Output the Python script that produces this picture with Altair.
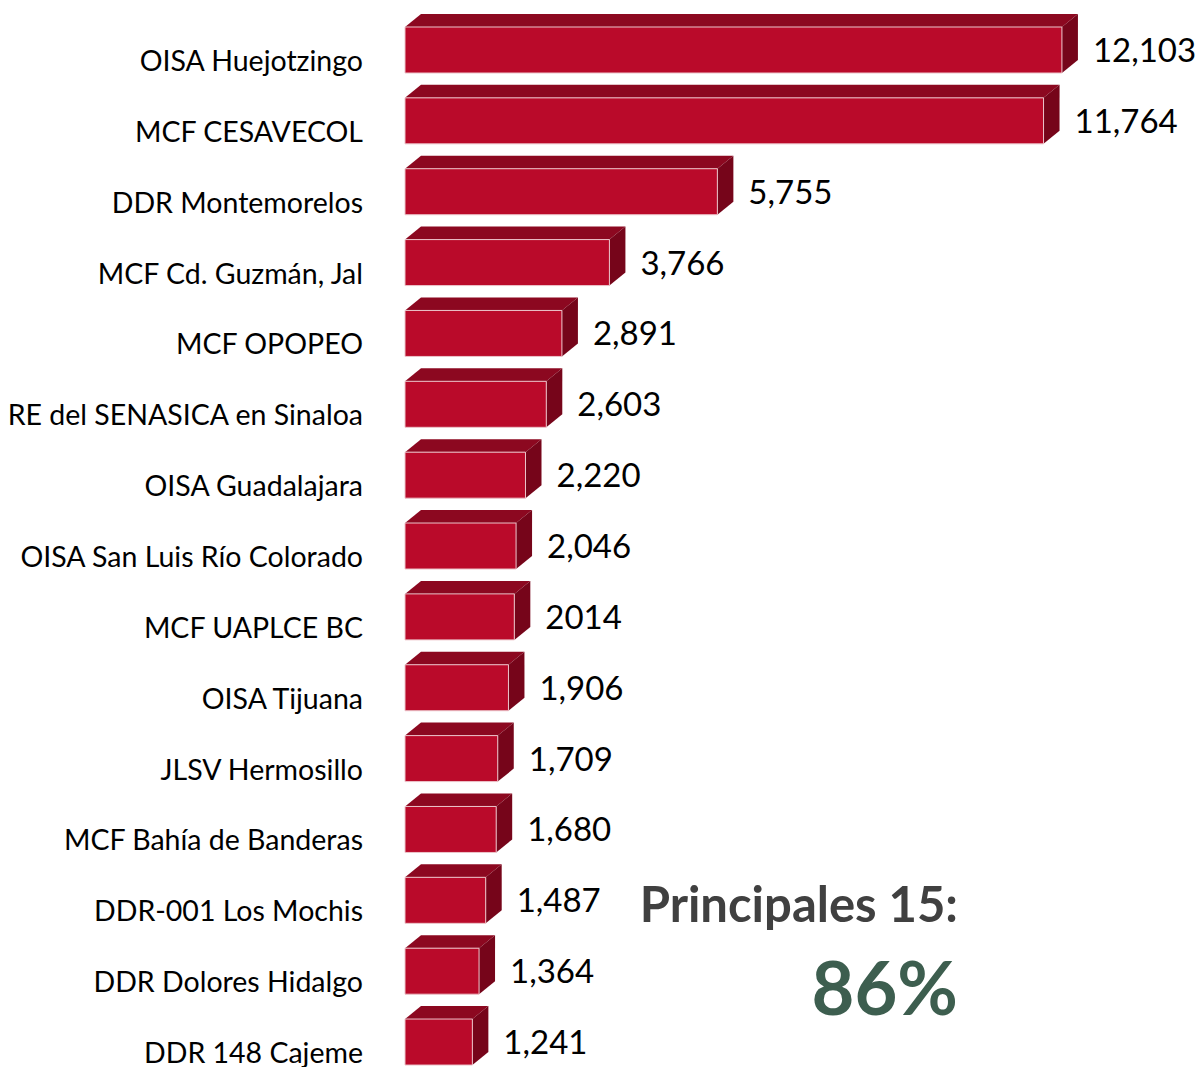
import altair as alt
import pandas as pd

names = [
    "OISA Huejotzingo", "MCF CESAVECOL", "DDR Montemorelos", "MCF Cd. Guzmán, Jal",
    "MCF OPOPEO", "RE del SENASICA en Sinaloa", "OISA Guadalajara",
    "OISA San Luis Río Colorado", "MCF UAPLCE BC", "OISA Tijuana", "JLSV Hermosillo",
    "MCF Bahía de Banderas", "DDR-001 Los Mochis", "DDR Dolores Hidalgo", "DDR 148 Cajeme",
]
values = [12103, 11764, 5755, 3766, 2891, 2603, 2220, 2046, 2014, 1906, 1709, 1680, 1487, 1364, 1241]
value_labels = ["12,103", "11,764", "5,755", "3,766", "2,891", "2,603", "2,220", "2,046",
                "2014", "1,906", "1,709", "1,680", "1,487", "1,364", "1,241"]
note_title = "Principales 15:"
note_value = "86%"

# geometry (scale units)
PITCH = 70.86            # px per row
H = 23 / PITCH           # half height of front face
DTOP = 13 / PITCH        # depth of top face (rows)
XMAX = 14573
PXU = 791 / XMAX
DX = 16 / PXU            # depth offset in value units

front = pd.DataFrame({
    "row": list(range(len(values))),
    "v": values,
    "label": value_labels,
    "name": names,
})
front["y0"] = front["row"] - H
front["y1"] = front["row"] + H

top_rows = []
side_rows = []
for i, v in enumerate(values):
    top_rows.append({"bar": "b%d" % i, "ty": i - H, "tx": 0.0, "tx2": float(v)})
    top_rows.append({"bar": "b%d" % i, "ty": i - H - DTOP, "tx": DX, "tx2": v + DX})
    side_rows.append({"bar": "b%d" % i, "sx": float(v), "sy": i - H, "sy2": i + H})
    side_rows.append({"bar": "b%d" % i, "sx": v + DX, "sy": i - H - DTOP, "sy2": i + H - DTOP})
top = pd.DataFrame(top_rows)
side = pd.DataFrame(side_rows)

xscale = alt.Scale(domain=[0, XMAX], nice=False, zero=False)
yscale = alt.Scale(domain=[-42 / PITCH, -42 / PITCH + 1059 / PITCH], reverse=True, nice=False, zero=False)

top_layer = alt.Chart(top).mark_area(orient="horizontal", fill="#8C0820", opacity=1).encode(
    y=alt.Y("ty:Q", scale=yscale, axis=None),
    x=alt.X("tx:Q", scale=xscale, axis=None),
    x2="tx2:Q",
    detail="bar:N",
)

side_layer = alt.Chart(side).mark_area(orient="vertical", fill="#76051A", opacity=1).encode(
    x=alt.X("sx:Q", scale=xscale, axis=None),
    y=alt.Y("sy:Q", scale=yscale, axis=None),
    y2="sy2:Q",
    detail="bar:N",
)

front_layer = alt.Chart(front).mark_rect(color="#BA0A2A", stroke="#ecc4ca", strokeWidth=1).encode(
    x=alt.X("v:Q", scale=xscale, axis=None),
    x2=alt.datum(0),
    y=alt.Y("y0:Q", scale=yscale, axis=None),
    y2="y1:Q",
)

text_layer = alt.Chart(front).mark_text(
    align="left", baseline="middle", dx=31, dy=2, fontSize=33, font="Lato", color="#000000"
).encode(
    x=alt.X("v:Q", scale=xscale, axis=None),
    y=alt.Y("row:Q", scale=yscale, axis=None),
    text="label:N",
)

name_layer = alt.Chart(front).mark_text(
    align="right", baseline="middle", dy=12, fontSize=28.5, font="Lato", color="#000000"
).encode(
    x=alt.value(-42),
    y=alt.Y("row:Q", scale=yscale, axis=None),
    text="name:N",
)

notes = pd.DataFrame({"t": [note_title]})
note1 = alt.Chart(notes).mark_text(
    align="right", baseline="middle", fontSize=49, font="Lato", fontWeight="bold", color="#404040"
).encode(x=alt.value(553), y=alt.value(899), text="t:N")

notes2 = pd.DataFrame({"t": [note_value]})
note2 = alt.Chart(notes2).mark_text(
    align="right", baseline="middle", fontSize=74, font="Lato", fontWeight="bold", color="#3D5E4F"
).encode(x=alt.value(553), y=alt.value(985), text="t:N")

chart = alt.layer(top_layer, side_layer, front_layer, text_layer, name_layer, note1, note2).properties(
    width=791, height=1059,
    autosize=alt.AutoSizeParams(type="none"),
    padding={"left": 397, "top": 0, "right": 0, "bottom": 0},
    background="white",
).configure_view(stroke=None)

chart.save("out.html", embed_options={"renderer": "svg", "actions": False})
